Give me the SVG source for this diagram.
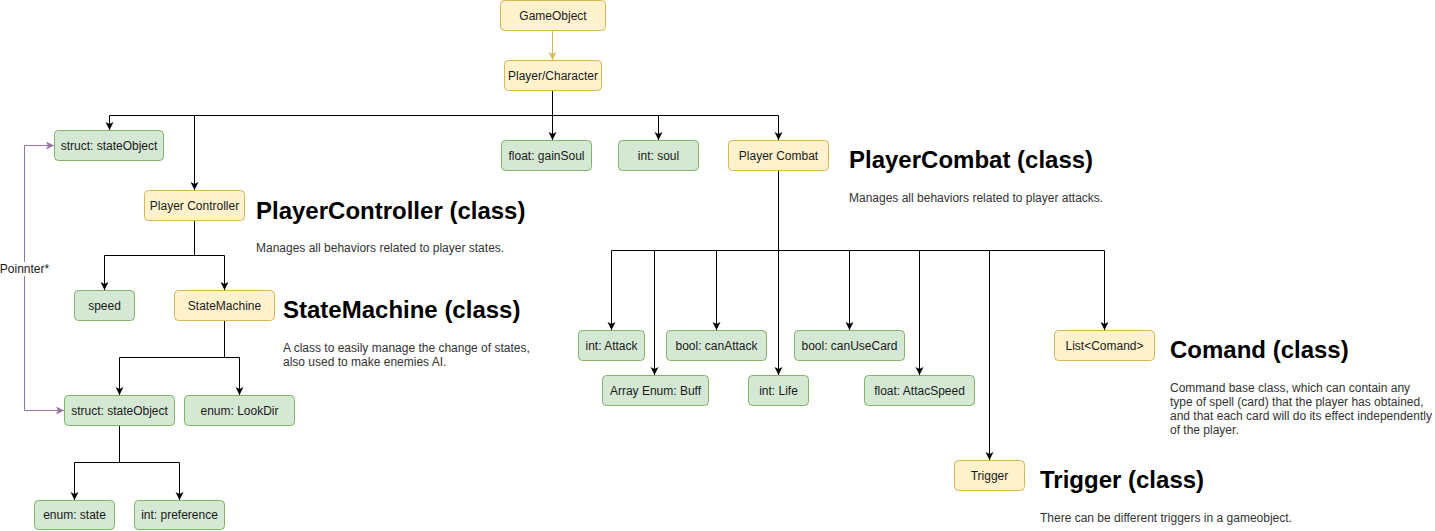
<svg xmlns="http://www.w3.org/2000/svg" width="1435" height="531" viewBox="0 0 1435 531">
<style>
.y{fill:#fff2cc;stroke:#d6b656;stroke-width:1}
.g{fill:#d5e8d4;stroke:#82b366;stroke-width:1}
.t{font-family:"Liberation Sans",Arial,sans-serif;font-size:12px;fill:#1a1a1a;text-anchor:middle}
.h{font-family:"Liberation Sans",Arial,sans-serif;font-size:24px;font-weight:bold;fill:#000}
.d{font-family:"Liberation Sans",Arial,sans-serif;font-size:12px;fill:#333}
.e{fill:none;stroke:#000;stroke-width:1;marker-end:url(#ab)}
</style>
<defs>
<marker id="ab" markerUnits="userSpaceOnUse" markerWidth="10" markerHeight="10" refX="8" refY="4" orient="auto"><path d="M0,0 L8,4 L0,8 L2,4 z" fill="#000"/></marker>
<marker id="ay" markerUnits="userSpaceOnUse" markerWidth="10" markerHeight="10" refX="8" refY="4" orient="auto"><path d="M0,0 L8,4 L0,8 L2,4 z" fill="#d6b656"/></marker>
<marker id="ap" markerUnits="userSpaceOnUse" markerWidth="10" markerHeight="10" refX="8" refY="4" orient="auto-start-reverse"><path d="M0,0 L8,4 L0,8 L2,4 z" fill="#9673a6"/></marker>
</defs>
<g id="connectors">
<path d="M552.5,30 V60" fill="none" stroke="#d6b656" marker-end="url(#ay)"/>
<path class="e" d="M552.5,90 V115.5 H109.5 V130"/>
<path class="e" d="M552.5,115.5 H194.5 V190"/>
<path class="e" d="M552.5,90 V140"/>
<path class="e" d="M552.5,115.5 H658.5 V140"/>
<path class="e" d="M552.5,115.5 H778.5 V140"/>
<path class="e" d="M194.5,220 V255.5 H104.5 V290"/>
<path class="e" d="M194.5,255.5 H224.5 V290"/>
<path class="e" d="M224.5,320 V357.5 H119.5 V395"/>
<path class="e" d="M224.5,357.5 H239.5 V395"/>
<path class="e" d="M119.5,425 V462.5 H74.5 V500"/>
<path class="e" d="M119.5,462.5 H179.5 V500"/>
<path class="e" d="M778.5,170 V250.5 H611.5 V330"/>
<path class="e" d="M778.5,250.5 H654.5 V375"/>
<path class="e" d="M778.5,250.5 H716.5 V330"/>
<path class="e" d="M778.5,250.5 V375"/>
<path class="e" d="M778.5,250.5 H849.5 V330"/>
<path class="e" d="M778.5,250.5 H919.5 V375"/>
<path class="e" d="M778.5,250.5 H989.5 V460"/>
<path class="e" d="M778.5,250.5 H1104.5 V330"/>
<path d="M54,145.5 H24.5 V410.5 H64" fill="none" stroke="#9673a6" marker-start="url(#ap)" marker-end="url(#ap)"/>
<rect x="0" y="262" width="50" height="14" fill="#fff"/>
<text class="t" x="24.5" y="273">Poinnter*</text>
</g>
<g id="n-gameobject"><rect class="y" x="500.5" y="0.5" width="105" height="30" rx="4"/><text class="t" x="553" y="19.5">GameObject</text></g>
<g id="n-player"><rect class="y" x="504.5" y="60.5" width="97" height="30" rx="4"/><text class="t" x="553" y="79.5">Player/Character</text></g>
<g id="n-struct1"><rect class="g" x="54.5" y="130.5" width="109" height="30" rx="4"/><text class="t" x="109" y="149.5">struct: stateObject</text></g>
<g id="n-gainsoul"><rect class="g" x="501.5" y="140.5" width="90" height="30" rx="4"/><text class="t" x="546.5" y="159.5">float: gainSoul</text></g>
<g id="n-soul"><rect class="g" x="618.5" y="140.5" width="80" height="30" rx="4"/><text class="t" x="658.5" y="159.5">int: soul</text></g>
<g id="n-combat"><rect class="y" x="728.5" y="140.5" width="100" height="30" rx="4"/><text class="t" x="778.5" y="159.5">Player Combat</text></g>
<g id="n-controller"><rect class="y" x="144.5" y="190.5" width="100" height="30" rx="4"/><text class="t" x="194.5" y="209.5">Player Controller</text></g>
<g id="n-speed"><rect class="g" x="74.5" y="290.5" width="60" height="30" rx="4"/><text class="t" x="104.5" y="309.5">speed</text></g>
<g id="n-statemachine"><rect class="y" x="174.5" y="290.5" width="100" height="30" rx="4"/><text class="t" x="224.5" y="309.5">StateMachine</text></g>
<g id="n-struct2"><rect class="g" x="64.5" y="395.5" width="110" height="30" rx="4"/><text class="t" x="119.5" y="414.5">struct: stateObject</text></g>
<g id="n-lookdir"><rect class="g" x="184.5" y="395.5" width="110" height="30" rx="4"/><text class="t" x="239.5" y="414.5">enum: LookDir</text></g>
<g id="n-state"><rect class="g" x="34.5" y="500.5" width="80" height="29" rx="4"/><text class="t" x="74.5" y="519">enum: state</text></g>
<g id="n-preference"><rect class="g" x="134.5" y="500.5" width="90" height="29" rx="4"/><text class="t" x="179.5" y="519">int: preference</text></g>
<g id="n-attack"><rect class="g" x="578.5" y="330.5" width="66" height="30" rx="4"/><text class="t" x="611.5" y="349.5">int: Attack</text></g>
<g id="n-buff"><rect class="g" x="602.5" y="375.5" width="106" height="30" rx="4"/><text class="t" x="655.5" y="394.5">Array Enum: Buff</text></g>
<g id="n-canattack"><rect class="g" x="666.5" y="330.5" width="100" height="30" rx="4"/><text class="t" x="716.5" y="349.5">bool: canAttack</text></g>
<g id="n-life"><rect class="g" x="748.5" y="375.5" width="60" height="30" rx="4"/><text class="t" x="778.5" y="394.5">int: Life</text></g>
<g id="n-canusecard"><rect class="g" x="794.5" y="330.5" width="110" height="30" rx="4"/><text class="t" x="849.5" y="349.5">bool: canUseCard</text></g>
<g id="n-attacspeed"><rect class="g" x="864.5" y="375.5" width="110" height="30" rx="4"/><text class="t" x="919.5" y="394.5">float: AttacSpeed</text></g>
<g id="n-trigger"><rect class="y" x="954.5" y="460.5" width="70" height="30" rx="4"/><text class="t" x="989.5" y="479.5">Trigger</text></g>
<g id="n-list"><rect class="y" x="1054.5" y="330.5" width="100" height="30" rx="4"/><text class="t" x="1104.5" y="349.5">List&lt;Comand&gt;</text></g>
<g id="txt-controller"><text class="h" x="256" y="219">PlayerController (class)</text><text class="d" x="256" y="252">Manages all behaviors related to player states.</text></g>
<g id="txt-statemachine"><text class="h" x="283" y="318">StateMachine (class)</text><text class="d" x="283" y="352">A class to easily manage the change of states,</text><text class="d" x="283" y="366">also used to make enemies AI.</text></g>
<g id="txt-combat"><text class="h" x="849" y="168">PlayerCombat (class)</text><text class="d" x="849" y="202">Manages all behaviors related to player attacks.</text></g>
<g id="txt-comand"><text class="h" x="1170" y="358">Comand (class)</text><text class="d" x="1170" y="392">Command base class, which can contain any</text><text class="d" x="1170" y="406">type of spell (card) that the player has obtained,</text><text class="d" x="1170" y="420">and that each card will do its effect independently</text><text class="d" x="1170" y="434">of the player.</text></g>
<g id="txt-trigger"><text class="h" x="1040" y="488">Trigger (class)</text><text class="d" x="1040" y="522">There can be different triggers in a gameobject.</text></g>
</svg>
